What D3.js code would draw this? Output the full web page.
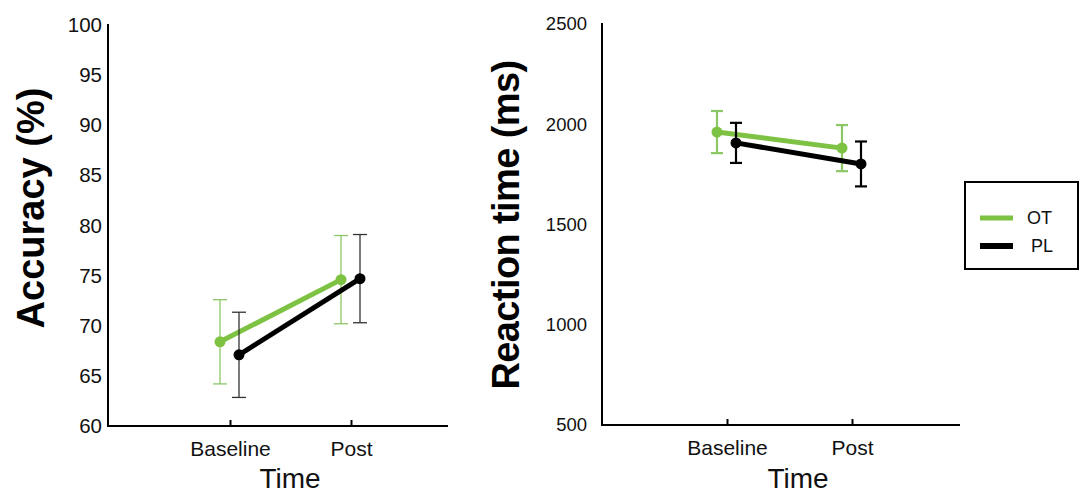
<!DOCTYPE html>
<html><head><meta charset="utf-8">
<script src="https://cdn.jsdelivr.net/npm/d3@7"></script>
<style>
html,body{margin:0;padding:0;background:#fff;}
svg{display:block;font-family:"Liberation Sans",Arial,sans-serif;}
</style></head>
<body><svg id="c" width="1079" height="496"></svg>
<script>
const categories = ["Baseline", "Post"];
const seriesNames = ["OT", "PL"];
// Accuracy (%)
const accOT = [68.4, 74.6];
const accOTerr = [4.2, 4.4];
const accPL = [67.1, 74.7];
const accPLerr = [4.25, 4.4];
// Reaction time (ms)
const rtOT = [1961, 1881];
const rtOTerr = [105, 115];
const rtPL = [1907, 1802];
const rtPLerr = [100, 112];
const accTicks = [60, 65, 70, 75, 80, 85, 90, 95, 100];
const rtTicks = [500, 1000, 1500, 2000, 2500];

const svg = d3.select("#c");
const green = "#7dc242", greenErr = "#8cc766", black = "#000";

function panel(o) {
  const g = svg.append("g");
  const x = d3.scalePoint().domain(categories).range(o.xr);
  const y = d3.scaleLinear().domain(o.yd).range(o.yr);
  // y axis
  const ya = g.append("g").attr("transform", `translate(${o.axisX},0)`)
    .call(d3.axisLeft(y).tickValues(o.ticks).tickFormat(d3.format("d")).tickSize(0).tickPadding(o.tickPad));
  ya.select(".domain").remove();
  ya.selectAll("text").attr("font-size", o.tickFs).attr("font-family", "Liberation Sans, Arial, sans-serif").attr("fill", "#111");
  g.append("line").attr("x1", o.axisX).attr("x2", o.axisX).attr("y1", y(o.yd[1]) - 1).attr("y2", y(o.yd[0]))
    .attr("stroke", "#000").attr("stroke-width", 2);
  // x axis
  const xa = g.append("g").attr("transform", `translate(0,${y(o.yd[0])})`)
    .call(d3.axisBottom(x).tickSizeInner(-6).tickSizeOuter(0).tickPadding(15));
  xa.select(".domain").remove();
  xa.selectAll(".tick line").attr("stroke", "#000").attr("stroke-width", 2);
  xa.selectAll("text").attr("font-size", 21).attr("font-family", "Liberation Sans, Arial, sans-serif").attr("fill", "#111");
  g.append("line").attr("x1", o.axisX - 1).attr("x2", o.xEnd).attr("y1", y(o.yd[0])).attr("y2", y(o.yd[0]))
    .attr("stroke", "#000").attr("stroke-width", 2);
  // titles
  g.append("text").attr("x", (o.axisX + o.xEnd) / 2 + o.xtOff).attr("y", 488).attr("text-anchor", "middle")
    .attr("font-size", 28).attr("fill", "#111").text("Time");
  g.append("text").attr("transform", `translate(${o.ytX},${o.ytY}) rotate(-90)`).attr("text-anchor", "middle")
    .attr("font-size", 38).attr("font-weight", "bold").attr("fill", "#000")
    .attr("letter-spacing", o.ls).text(o.ytitle);
  // series
  const series = [
    {vals: o.ot, err: o.oterr, col: green, ecol: greenErr, off: -10},
    {vals: o.pl, err: o.plerr, col: black, ecol: o.blackErr, off: 9}
  ];
  series.forEach(s => {
    const pts = categories.map((c, i) => ({x: x(c) + s.off, v: s.vals[i], e: s.err[i]}));
    // error bars
    pts.forEach(p => {
      const eg = g.append("g").attr("stroke", s.ecol).attr("stroke-width", o.ew);
      eg.append("line").attr("x1", p.x).attr("x2", p.x).attr("y1", y(p.v + p.e)).attr("y2", y(p.v - p.e));
      [p.v + p.e, p.v - p.e].forEach(v => eg.append("line").attr("x1", p.x - o.cap).attr("x2", p.x + o.cap)
        .attr("y1", y(v)).attr("y2", y(v)));
    });
    g.append("path").datum(pts).attr("fill", "none").attr("stroke", s.col).attr("stroke-width", 5)
      .attr("d", d3.line().x(p => p.x).y(p => y(p.v)));
    g.selectAll(null).data(pts).enter().append("circle").attr("cx", p => p.x).attr("cy", p => y(p.v))
      .attr("r", 5.5).attr("fill", s.col);
  });
}

panel({xr: [230, 351], axisX: 108, xEnd: 448, yd: [60, 100], yr: [426, 25], ticks: accTicks,
  tickPad: 6, tickFs: 20.5, ytitle: "Accuracy (%)", ytX: 44, ytY: 208, ls: 0, xtOff: 12,
  ot: accOT, oterr: accOTerr, pl: accPL, plerr: accPLerr, ew: 1.3, cap: 7, blackErr: "#333"});
panel({xr: [727, 852], axisX: 602, xEnd: 960, yd: [500, 2500], yr: [425, 24], ticks: rtTicks,
  tickPad: 15, tickFs: 18.5, ytitle: "Reaction time (ms)", ytX: 519, ytY: 225, ls: -0.6, xtOff: 17,
  ot: rtOT, oterr: rtOTerr, pl: rtPL, plerr: rtPLerr, ew: 2.2, cap: 6, blackErr: "#000"});

// legend
const leg = svg.append("g");
leg.append("rect").attr("x", 965).attr("y", 182).attr("width", 113).attr("height", 87)
  .attr("fill", "#fff").attr("stroke", "#000").attr("stroke-width", 2);
const legY = d3.scalePoint().domain(seriesNames).range([218, 246]);
const legCols = [green, black];
seriesNames.forEach((n, i) => {
  leg.append("line").attr("x1", 980).attr("x2", 1013).attr("y1", legY(n)).attr("y2", legY(n))
    .attr("stroke", legCols[i]).attr("stroke-width", i === 0 ? 5 : 6);
  leg.append("text").attr("x", i === 0 ? 1027 : 1031).attr("y", legY(n)).attr("dy", "0.35em")
    .attr("font-size", 18).attr("fill", "#111").text(n);
});
</script></body></html>
